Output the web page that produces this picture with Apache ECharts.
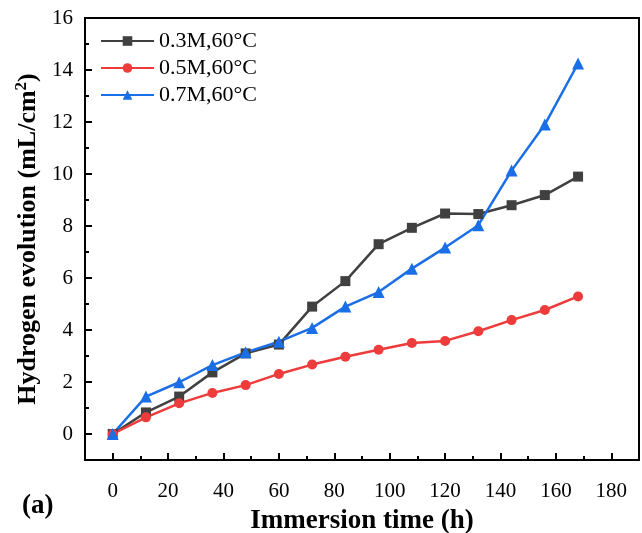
<!DOCTYPE html>
<html>
<head>
<meta charset="utf-8">
<script src="https://cdn.jsdelivr.net/npm/echarts@6/dist/echarts.min.js"></script>
<style>
  html, body { margin: 0; padding: 0; background: #fff; }
  #chart { width: 642px; height: 533px; }
</style>
</head>
<body>
<div id="chart"></div>
<script>
// immersion time (h)
const hours = [0, 12, 24, 36, 48, 60, 72, 84, 96, 108, 120, 132, 144, 156, 168]

// hydrogen evolution (mL/cm2)
const m03 = [0, 0.83, 1.44, 2.37, 3.1, 3.44, 4.9, 5.88, 7.3, 7.93, 8.48, 8.46, 8.8, 9.19, 9.9]
const m05 = [0, 0.64, 1.18, 1.58, 1.88, 2.31, 2.67, 2.97, 3.24, 3.5, 3.58, 3.95, 4.38, 4.77, 5.29]
const m07 = [0, 1.44, 1.99, 2.65, 3.14, 3.55, 4.08, 4.9, 5.46, 6.36, 7.17, 8.03, 10.13, 11.9, 14.25]

const seriesNames = ['0.3M,60°C', '0.5M,60°C', '0.7M,60°C']

const xMajor = [0, 20, 40, 60, 80, 100, 120, 140, 160, 180]
const xMinor = [10, 30, 50, 70, 90, 110, 130, 150, 170]
const yMajor = [0, 2, 4, 6, 8, 10, 12, 14, 16]
const yMinor = [1, 3, 5, 7, 9, 11, 13, 15]

const font = 'Liberation Serif'
const chart = echarts.init(document.getElementById('chart'))

const pairs = vals => hours.map((h, i) => [h, vals[i]])

function makeSeries(name, vals, color, symbol, size) {
  return {
    name: name,
    type: 'line',
    data: pairs(vals),
    symbol: symbol,
    symbolSize: size,
    lineStyle: { color: color, width: 2.5 },
    itemStyle: { color: color },
    xAxisIndex: 0,
    yAxisIndex: 0
  }
}

const axisLine = { show: true, onZero: false, lineStyle: { color: '#000', width: 2 } }
const noLine = { show: false, onZero: false }

const option = {
  backgroundColor: '#fff',
  animation: false,
  grid: {
    left: 85, right: 3, top: 18, bottom: 73,
    outerBoundsMode: 'none',
    containLabel: false,
    show: true, borderColor: '#000', borderWidth: 2
  },
  legend: {
    data: seriesNames,
    orient: 'vertical',
    left: 95,
    top: 25,
    itemWidth: 53,
    itemHeight: 12,
    itemGap: 5,
    textStyle: { fontFamily: font, fontSize: 22, color: '#000' }
  },
  xAxis: [
    {
      type: 'value',
      min: -10, max: 190,
      name: 'Immersion time (h)',
      nameLocation: 'middle',
      nameGap: 48,
      nameTextStyle: { fontFamily: font, fontSize: 27, fontWeight: 'bold', color: '#000' },
      axisLine: axisLine,
      axisTick: { inside: true, length: 7, customValues: xMajor, lineStyle: { color: '#000', width: 2 } },
      axisLabel: { customValues: xMajor, margin: 21, fontFamily: font, fontSize: 21, color: '#000' },
      splitLine: { show: false }
    },
    {
      type: 'value',
      min: -10, max: 190,
      position: 'bottom',
      axisLine: noLine,
      axisTick: { inside: true, length: 4, customValues: xMinor, lineStyle: { color: '#000', width: 2 } },
      axisLabel: { show: false },
      splitLine: { show: false }
    }
  ],
  yAxis: [
    {
      type: 'value',
      min: -1, max: 16,
      name: '{t|Hydrogen evolution (mL/cm}{s|2}{t|)}',
      nameLocation: 'middle',
      nameGap: 31,
      nameTextStyle: {
        rich: {
          t: { fontFamily: font, fontSize: 26, fontWeight: 'bold', color: '#000' },
          s: { fontFamily: font, fontSize: 17, fontWeight: 'bold', color: '#000', verticalAlign: 'top', padding: [0, 0, 12, 0] }
        }
      },
      axisLine: axisLine,
      axisTick: { inside: true, length: 7, customValues: yMajor, lineStyle: { color: '#000', width: 2 } },
      axisLabel: { customValues: yMajor, margin: 12, fontFamily: font, fontSize: 21, color: '#000' },
      splitLine: { show: false }
    },
    {
      type: 'value',
      min: -1, max: 16,
      position: 'left',
      axisLine: noLine,
      axisTick: { inside: true, length: 4, customValues: yMinor, lineStyle: { color: '#000', width: 2 } },
      axisLabel: { show: false },
      splitLine: { show: false }
    }
  ],
  graphic: [
    {
      type: 'text',
      left: 22, top: 493,
      style: { text: '(a)', font: 'bold 27px "Liberation Serif"', fill: '#000' }
    }
  ],
  series: [
    makeSeries(seriesNames[0], m03, '#404040', 'rect', 10),
    makeSeries(seriesNames[1], m05, '#ee3b3b', 'circle', 10),
    makeSeries(seriesNames[2], m07, '#1a6fe6', 'triangle', 12)
  ]
}

chart.setOption(option)
</script>
</body>
</html>
